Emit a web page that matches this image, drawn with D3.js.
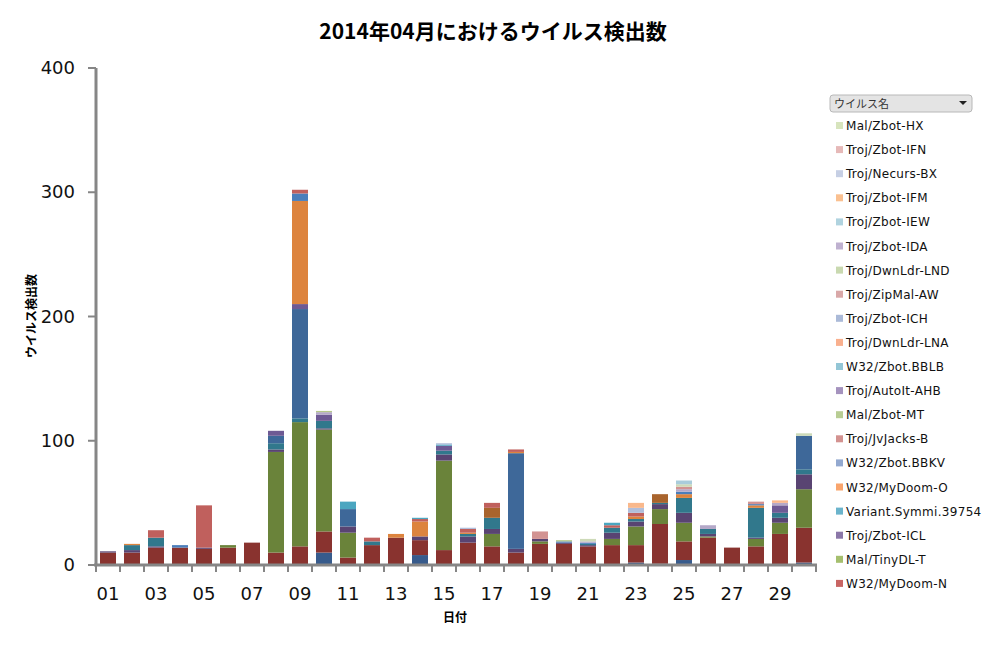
<!DOCTYPE html>
<html><head><meta charset="utf-8">
<script src="https://cdn.jsdelivr.net/npm/d3@7"></script>
<style>body{margin:0;background:#fff;font-family:"Noto Sans CJK JP","DejaVu Sans",sans-serif}</style>
</head><body><svg id="c" width="987" height="648"></svg>
<script>
const days = ["01","02","03","04","05","06","07","08","09","10","11","12","13","14","15","16","17","18","19","20","21","22","23","24","25","26","27","28","29","30"];
const yTicks = [0,100,200,300,400];
const legendNames = ["Mal/Zbot-HX","Troj/Zbot-IFN","Troj/Necurs-BX","Troj/Zbot-IFM","Troj/Zbot-IEW","Troj/Zbot-IDA","Troj/DwnLdr-LND","Troj/ZipMal-AW","Troj/Zbot-ICH","Troj/DwnLdr-LNA","W32/Zbot.BBLB","Troj/AutoIt-AHB","Mal/Zbot-MT","Troj/JvJacks-B","W32/Zbot.BBKV","W32/MyDoom-O","Variant.Symmi.39754","Troj/Zbot-ICL","Mal/TinyDL-T","W32/MyDoom-N"];
const legendColors = ["#D7E4BD","#E6B9B8","#C6CFE4","#FAC090","#B0D3DF","#BFB1D0","#C9D9B0","#D9A8A8","#ABBAD8","#F9B08E","#93C6D6","#A593BE","#B8CD93","#D39290","#93A9D0","#F9A56D","#6BB4CC","#8B77A8","#A5BF6E","#C86563"];
// stacked series, bottom to top
const seriesNames = ["その他A","W32/MyDoom-N","Mal/TinyDL-T","Troj/Zbot-ICL","Variant.Symmi.39754","W32/Zbot.BBKV","Troj/AutoIt-AHB","W32/MyDoom-O","その他B","Troj/Zbot-ICH","Troj/JvJacks-B","W32/Zbot.BBLB","Troj/Zbot-IDA","Troj/Necurs-BX","Troj/Zbot-IFM","Troj/ZipMal-AW","Mal/Zbot-HX","Troj/DwnLdr-LND","Troj/Zbot-IEW"];
const seriesColors = ["#375B8C","#89332F","#6A833A","#594472","#31788C","#3E6899","#6E5A94","#DD843E","#A9642D","#4A7EBB","#C0605D","#4BA6C0","#B4A8C8","#B0BEDB","#F9B88C","#D29392","#CDDAB8","#B5C98A","#A9CCDB"];
const seriesValues = [
 [0,0,0,0,0,0,0,0,0,10,0,0,0,8,0,0,0,0,0,0,0,0,2,1,4,0,0,0,0,2],
 [10,10,14,14,13,14,18,10,15,17,6,16,22,12,12,18,15,10,17,17,15,16,14,32,15,22,14,15,25,28],
 [0,0,0,0,0,2,0,81,100,82,20,0,0,0,72,0,10,0,2,0,0,5,15,12,15,1,0,6,9,31],
 [1,2,1,0,1,0,0,2,0,1,5,0,0,3,5,5,4,3,2,1,1,5,4,4,8,2,0,1,4,12],
 [0,4,7,0,0,0,0,5,3,6,0,3,0,0,3,2,9,0,0,0,1,4,2,1,12,4,0,24,4,4],
 [0,0,0,0,0,0,0,6,88,0,14,0,0,0,0,0,0,77,0,0,0,0,0,0,0,0,0,0,0,27],
 [0,0,0,0,0,0,0,4,4,5,0,0,0,0,4,0,0,0,0,0,0,0,0,0,0,0,0,0,6,0],
 [0,1,0,0,0,0,0,0,83,0,0,0,3,12,0,1,0,1,0,0,0,0,2,0,3,0,0,2,0,0],
 [0,0,0,0,0,0,0,0,0,0,0,0,0,0,0,0,8,0,0,0,0,0,0,7,0,0,0,0,0,0],
 [0,0,0,2,0,0,0,0,6,0,0,0,0,0,0,0,0,0,0,1,1,0,0,0,2,0,0,1,0,0],
 [0,0,6,0,34,0,0,0,3,0,0,3,0,2,0,3,4,2,0,0,0,2,3,0,0,0,0,0,0,0],
 [0,0,0,0,0,0,0,0,0,0,6,0,0,1,1,0,0,0,0,0,0,2,0,0,0,0,0,0,0,0],
 [0,0,0,0,0,0,0,0,0,2,0,0,0,0,0,0,0,0,0,0,1,0,0,0,2,3,0,0,2,0],
 [0,0,0,0,0,0,0,0,0,0,0,0,0,0,1,1,0,0,0,0,0,0,4,0,0,0,0,0,0,0],
 [0,0,0,0,0,0,0,0,0,0,0,0,0,0,0,0,0,0,0,0,0,0,4,0,0,0,0,0,2,0],
 [0,0,0,0,0,0,0,0,0,0,0,0,0,0,0,0,0,0,6,0,0,0,0,0,2,0,0,2,0,0],
 [0,0,0,0,0,0,0,0,0,0,0,0,0,0,0,0,0,0,0,0,2,0,0,0,2,0,0,0,0,2],
 [0,0,0,0,0,0,0,0,0,1,0,0,0,0,0,0,0,0,0,1,0,0,0,0,0,0,0,0,0,0],
 [0,0,0,0,0,0,0,0,0,0,0,0,0,0,0,0,0,0,0,0,0,0,0,0,3,0,0,0,0,0]
];
const title = "2014年04月におけるウイルス検出数";

const svg = d3.select("#c");
const x = d3.scaleBand().domain(days).range([96,816]).paddingInner(1/3).paddingOuter(1/6);
const y = d3.scaleLinear().domain([0,400]).range([565,68]);
const rows = days.map((d,i)=>{const o={day:d};seriesNames.forEach((n,j)=>o[n]=seriesValues[j][i]);return o;});
const stack = d3.stack().keys(seriesNames)(rows);
svg.append("g").selectAll("g").data(stack).join("g").attr("fill",(d,i)=>seriesColors[i])
 .selectAll("rect").data(d=>d).join("rect")
 .attr("x",d=>x(d.data.day)).attr("width",x.bandwidth())
 .attr("y",d=>y(d[1])).attr("height",d=>y(d[0])-y(d[1]));

// axes
const grey="#868686";
svg.append("line").attr("x1",96).attr("x2",96).attr("y1",68).attr("y2",565).attr("stroke",grey).attr("stroke-width",3);
svg.append("line").attr("x1",94).attr("x2",817).attr("y1",565).attr("y2",565).attr("stroke",grey).attr("stroke-width",3);
yTicks.forEach(t=>{
 svg.append("line").attr("x1",88).attr("x2",96).attr("y1",y(t)).attr("y2",y(t)).attr("stroke",grey).attr("stroke-width",2);
 svg.append("text").attr("x",75).attr("y",y(t)+6).attr("text-anchor","end").attr("font-size",18).attr("font-family","DejaVu Sans").attr("fill","#111").text(t);
});
const step=x.step();
d3.range(31).forEach(i=>{const xx=96+i*step;
 svg.append("line").attr("x1",xx).attr("x2",xx).attr("y1",565).attr("y2",572).attr("stroke",grey).attr("stroke-width",2);});
days.forEach((d,i)=>{ if(i%2==0) svg.append("text").attr("x",x(d)+x.bandwidth()/2).attr("y",600).attr("text-anchor","middle").attr("font-size",18).attr("font-family","DejaVu Sans").attr("fill","#111").text(d);});
svg.append("text").attr("x",455).attr("y",622).attr("text-anchor","middle").attr("font-size",12).attr("font-weight","bold").text("日付");
svg.append("text").attr("transform","translate(36,316) rotate(-90)").attr("text-anchor","middle").attr("font-size",12).attr("font-weight","bold").text("ウイルス検出数");
svg.append("text").attr("x",493).attr("y",39).attr("text-anchor","middle").attr("font-size",21).attr("font-weight","bold").text(title);

// legend
const lg=svg.append("g");
lg.append("rect").attr("x",830).attr("y",95).attr("width",142).attr("height",17).attr("rx",3).attr("fill","#e4e4e4").attr("stroke","#b8b8b8");
lg.append("text").attr("x",834).attr("y",108).attr("font-size",11).attr("fill","#333").text("ウイルス名");
lg.append("path").attr("d","M959,101 l8,0 l-4,4 z").attr("fill","#222");
legendNames.forEach((n,i)=>{const yy=126+i*24.1;
 lg.append("rect").attr("x",836).attr("y",yy-4).attr("width",7).attr("height",7).attr("fill",legendColors[i]);
 lg.append("text").attr("x",846).attr("y",yy+4).attr("font-size",12).attr("font-family","DejaVu Sans").attr("letter-spacing",0.3).attr("fill","#111").text(n);
});
</script></body></html>
